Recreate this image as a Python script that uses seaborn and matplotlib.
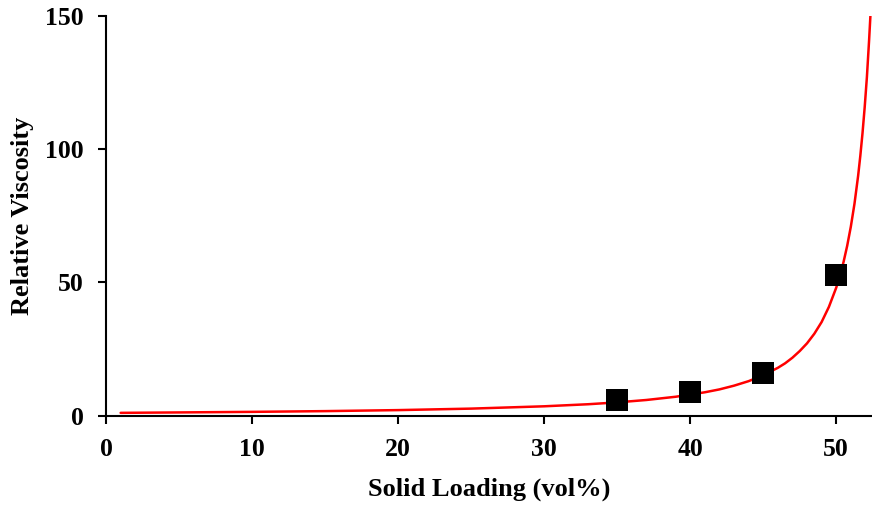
import matplotlib
matplotlib.use("Agg")
import matplotlib.pyplot as plt
import seaborn as sns
import pandas as pd

# Measured relative viscosity at each solid loading
loading_measured = [35, 40, 45, 50]
viscosity_measured = [5.7, 8.7, 15.8, 52.8]

# Fitted viscosity curve, sampled along the loading axis
loading_fit = [1, 5, 10, 15, 20, 25, 30, 33, 35, 37, 39, 41, 42, 43, 44, 45,
               46, 46.5, 47, 47.5, 48, 48.5, 49, 49.5, 50, 50.25, 50.5, 50.75,
               51, 51.25, 51.5, 51.65, 51.8, 51.95, 52.1, 52.25, 52.37]
viscosity_fit = [1.0, 1.16, 1.37, 1.65, 2.03, 2.59, 3.46, 4.23, 4.93, 5.83,
                 7.04, 8.72, 9.8, 11.2, 12.9, 15.1, 17.9, 19.6, 21.7, 24.2,
                 27.1, 30.7, 35.1, 40.8, 48.0, 52.4, 57.6, 63.7, 70.9, 79.5,
                 90.0, 97.5, 106.0, 115.8, 127.0, 140.8, 153.0]

x_ticks = [0, 10, 20, 30, 40, 50]
y_ticks = [0, 50, 100, 150]

sns.set_style("ticks")
plt.rcParams["font.family"] = ["Liberation Serif", "DejaVu Serif"]
plt.rcParams["font.weight"] = "bold"
plt.rcParams["text.color"] = "black"
plt.rcParams["axes.labelcolor"] = "black"
plt.rcParams["xtick.color"] = "black"
plt.rcParams["ytick.color"] = "black"

fit_df = pd.DataFrame({"loading": loading_fit, "viscosity": viscosity_fit})
meas_df = pd.DataFrame({"loading": loading_measured, "viscosity": viscosity_measured})

fig = plt.figure(figsize=(8.72, 5.05), dpi=100)
ax = fig.add_axes([0.1216, 0.1772, 0.8784, 0.7911])

sns.lineplot(data=fit_df, x="loading", y="viscosity", ax=ax, color="#ff0000",
             linewidth=1.8, sort=True, zorder=2)
sns.scatterplot(data=meas_df, x="loading", y="viscosity", ax=ax, marker="s",
                s=240, color="black", linewidth=0, zorder=3)

ax.set_xlim(0, 52.45)
ax.set_ylim(0, 150)
ax.set_xticks(x_ticks)
ax.set_yticks(y_ticks)
ax.set_xticklabels([str(t) for t in x_ticks], fontsize=18.5, fontweight="bold")
ax.set_yticklabels([str(t) for t in y_ticks], fontsize=18.5, fontweight="bold")
ax.tick_params(axis="both", direction="out", length=6, width=1.5, color="black")
ax.tick_params(axis="x", pad=10)
ax.tick_params(axis="y", pad=10)

for side in ("left", "bottom"):
    ax.spines[side].set_linewidth(1.5)
    ax.spines[side].set_color("black")
for side in ("right", "top"):
    ax.spines[side].set_visible(False)

ax.set_xlabel("Solid Loading (vol%)", fontsize=19, fontweight="bold", labelpad=12)
ax.set_ylabel("Relative Viscosity", fontsize=19, fontweight="bold", labelpad=8)

fig.savefig("out.png", dpi=100)
